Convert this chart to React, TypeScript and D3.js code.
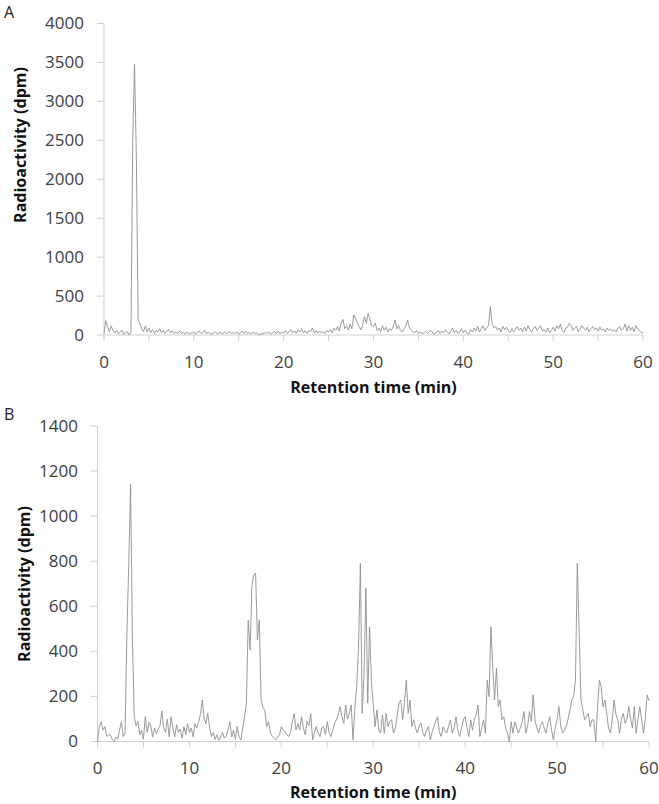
import React from "react";
import * as d3 from "d3";

// sampling interval of the radio-detector trace (min)
const step = 0.2;

const xLabelTicks = [0, 10, 20, 30, 40, 50, 60];
const xMarkTicks = [0, 5, 10, 15, 20, 25, 30, 35, 40, 45, 50, 55, 60];
const yTicksA = [0, 500, 1000, 1500, 2000, 2500, 3000, 3500, 4000];
const yTicksB = [0, 200, 400, 600, 800, 1000, 1200, 1400];

// panel A, dpm every 0.2 min (one row = 1 min)
const activityA = [
  20, 184, 107, 43, 115,
  60, 24, 60, 15, 40,
  60, 9, 30, 43, 0,
  30, 2500, 3479, 2300, 190,
  150, 80, 43, 115, 40,
  90, 30, 70, 20, 60,
  40, 80, 30, 60, 20,
  50, 70, 25, 55, 20,
  40, 15, 50, 20, 35,
  10, 40, 15, 30, 20,
  40, 10, 35, 50, 20,
  30, 60, 15, 40, 20,
  10, 30, 40, 15, 25,
  35, 10, 40, 20, 30,
  45, 15, 35, 20, 40,
  10, 30, 50, 20, 45,
  15, 35, 10, 40, 20,
  30, 10, 5, 25, 15,
  35, 20, 40, 10, 30,
  45, 20, 50, 15, 40,
  25, 60, 20, 45, 70,
  30, 55, 20, 65, 40,
  80, 30, 55, 20, 60,
  40, 90, 30, 60, 25,
  50, 30, 40, 20, 60,
  40, 70, 30, 90, 60,
  110, 50, 150, 200, 80,
  120, 64, 140, 80, 257,
  214, 150, 110, 64, 130,
  235, 150, 278, 200, 120,
  107, 150, 60, 90, 40,
  120, 60, 100, 40, 80,
  60, 110, 193, 80, 120,
  60, 40, 80, 120, 192,
  90, 60, 40, 30, 60,
  20, 40, 15, 30, 50,
  20, 40, 60, 25, 10,
  35, 60, 20, 50, 30,
  70, 40, 15, 50, 90,
  30, 60, 20, 40, 80,
  30, 60, 20, 10, 70,
  40, 90, 50, 110, 40,
  80, 120, 60, 90, 120,
  364, 150, 90, 110, 60,
  90, 40, 110, 70, 100,
  60, 30, 80, 40, 70,
  110, 60, 90, 40, 100,
  50, 120, 70, 40, 80,
  110, 60, 90, 120, 50,
  70, 40, 90, 30, 60,
  100, 50, 120, 80, 140,
  60, 30, 90, 100, 150,
  120, 60, 90, 110, 40,
  80, 120, 90, 60, 100,
  40, 80, 110, 70, 90,
  50, 100, 60, 80, 40,
  90, 60, 80, 50, 70,
  40, 90, 110, 60, 80,
  140, 50, 120, 60, 100,
  40, 120, 80, 60, 30,
  30,
];

// panel B, dpm every 0.2 min (one row = 1 min)
const activityB = [
  0, 66, 88, 50, 66,
  22, 30, 30, 10, 0,
  20, 10, 50, 88, 22,
  40, 480, 790, 1140, 450,
  110, 70, 90, 30, 50,
  10, 110, 40, 85, 70,
  20, 60, 35, 55, 70,
  135, 60, 40, 100, 20,
  110, 60, 20, 75, 40,
  55, 15, 65, 30, 80,
  40, 60, 20, 80, 60,
  88, 120, 184, 100, 80,
  125, 60, 22, 40, 10,
  30, 5, 20, 40, 15,
  25, 50, 88, 20, 50,
  10, 66, 20, 7, 60,
  110, 170, 539, 406, 687,
  740, 746, 450, 540, 184,
  150, 140, 66, 88, 40,
  22, 15, 7, 20, 30,
  66, 50, 44, 30, 22,
  40, 90, 124, 51, 80,
  51, 110, 60, 30, 90,
  70, 124, 7, 40, 66,
  40, 22, 60, 66, 30,
  88, 40, 22, 50, 81,
  96, 120, 155, 110, 80,
  162, 100, 125, 162, 7,
  150, 243, 420, 790, 125,
  300, 680, 170, 509, 265,
  162, 66, 140, 50, 37,
  118, 37, 125, 66, 90,
  96, 37, 60, 110, 170,
  184, 96, 177, 272, 125,
  184, 66, 96, 60, 37,
  70, 81, 40, 22, 50,
  66, 7, 40, 66, 90,
  110, 40, 22, 66, 50,
  37, 70, 96, 37, 60,
  110, 50, 22, 60, 96,
  110, 60, 22, 96, 50,
  96, 120, 162, 22, 60,
  96, 37, 272, 199, 509,
  332, 184, 325, 155, 184,
  96, 110, 60, 37, 0,
  88, 37, 88, 60, 37,
  60, 88, 133, 37, 70,
  133, 90, 207, 96, 60,
  37, 70, 88, 60, 37,
  80, 110, 50, 7, 60,
  96, 155, 66, 37, 50,
  66, 100, 140, 184, 200,
  272, 790, 494, 184, 140,
  96, 110, 125, 66, 96,
  96, 0, 150, 272, 243,
  155, 184, 125, 60, 37,
  96, 184, 120, 96, 37,
  100, 125, 81, 100, 155,
  100, 59, 155, 37, 100,
  155, 96, 37, 100, 207,
  180,
];

const FONT = "'Open Sans', sans-serif";
const AXIS = "#d0d0d0";
const TEXT = "#404040";

type PanelProps = {
  letter: string;
  letterY: number;
  values: number[];
  yTicks: number[];
  left: number;
  right: number;
  top: number;
  bottom: number;
  yLabelEnd: number;
  yTitleX: number;
  yTitleY: number;
  xLabelY: number;
  xTitleY: number;
};

const Panel = (p: PanelProps) => {
  const x = d3.scaleLinear().domain([0, 60]).range([p.left, p.right]);
  const y = d3
    .scaleLinear()
    .domain([0, p.yTicks[p.yTicks.length - 1]])
    .range([p.bottom, p.top]);
  const line = d3
    .line<number>()
    .x((d, i) => x(i * step))
    .y((d) => y(d));

  return (
    <g>
      <text x={4} y={p.letterY} fontFamily={FONT} fontSize={16} fill="#222">
        {p.letter}
      </text>
      {/* y axis */}
      <line x1={p.left} x2={p.left} y1={p.top} y2={p.bottom} stroke={AXIS} />
      {p.yTicks.map((t) => (
        <g key={t}>
          <line x1={p.left - 7} x2={p.left} y1={y(t)} y2={y(t)} stroke={AXIS} />
          <text
            x={p.yLabelEnd}
            y={y(t)}
            dy="0.35em"
            textAnchor="end"
            fontFamily={FONT}
            fontSize={17}
            fill={TEXT}
          >
            {t}
          </text>
        </g>
      ))}
      {/* x axis */}
      <line x1={p.left} x2={p.right} y1={p.bottom} y2={p.bottom} stroke={AXIS} />
      {xMarkTicks.map((t) => (
        <line key={t} x1={x(t)} x2={x(t)} y1={p.bottom} y2={p.bottom + 6} stroke={AXIS} />
      ))}
      {xLabelTicks.map((t) => (
        <text
          key={t}
          x={x(t)}
          y={p.xLabelY}
          dy="0.35em"
          textAnchor="middle"
          fontFamily={FONT}
          fontSize={17}
          fill={TEXT}
        >
          {t}
        </text>
      ))}
      <path d={line(p.values) || ""} fill="none" stroke="#909090" strokeWidth={0.9} />
      <text
        x={(p.left + p.right) / 2}
        y={p.xTitleY}
        textAnchor="middle"
        fontFamily={FONT}
        fontWeight="bold"
        fontSize={16}
        fill="#111"
      >
        Retention time (min)
      </text>
      <text
        transform={`translate(${p.yTitleX},${p.yTitleY}) rotate(-90)`}
        textAnchor="middle"
        fontFamily={FONT}
        fontWeight="bold"
        fontSize={16}
        fill="#111"
      >
        Radioactivity (dpm)
      </text>
    </g>
  );
};

export default function App() {
  return (
    <svg
      width={659}
      height={804}
      style={{ position: "absolute", left: 0, top: 0, background: "#fff" }}
    >
      <Panel
        letter="A"
        letterY={18}
        values={activityA}
        yTicks={yTicksA}
        left={104}
        right={643}
        top={23.5}
        bottom={335}
        yLabelEnd={84}
        yTitleX={26}
        yTitleY={145}
        xLabelY={362}
        xTitleY={393}
      />
      <Panel
        letter="B"
        letterY={420}
        values={activityB}
        yTicks={yTicksB}
        left={97.5}
        right={649}
        top={426}
        bottom={741.5}
        yLabelEnd={78}
        yTitleX={30}
        yTitleY={584}
        xLabelY={768}
        xTitleY={798}
      />
    </svg>
  );
}
